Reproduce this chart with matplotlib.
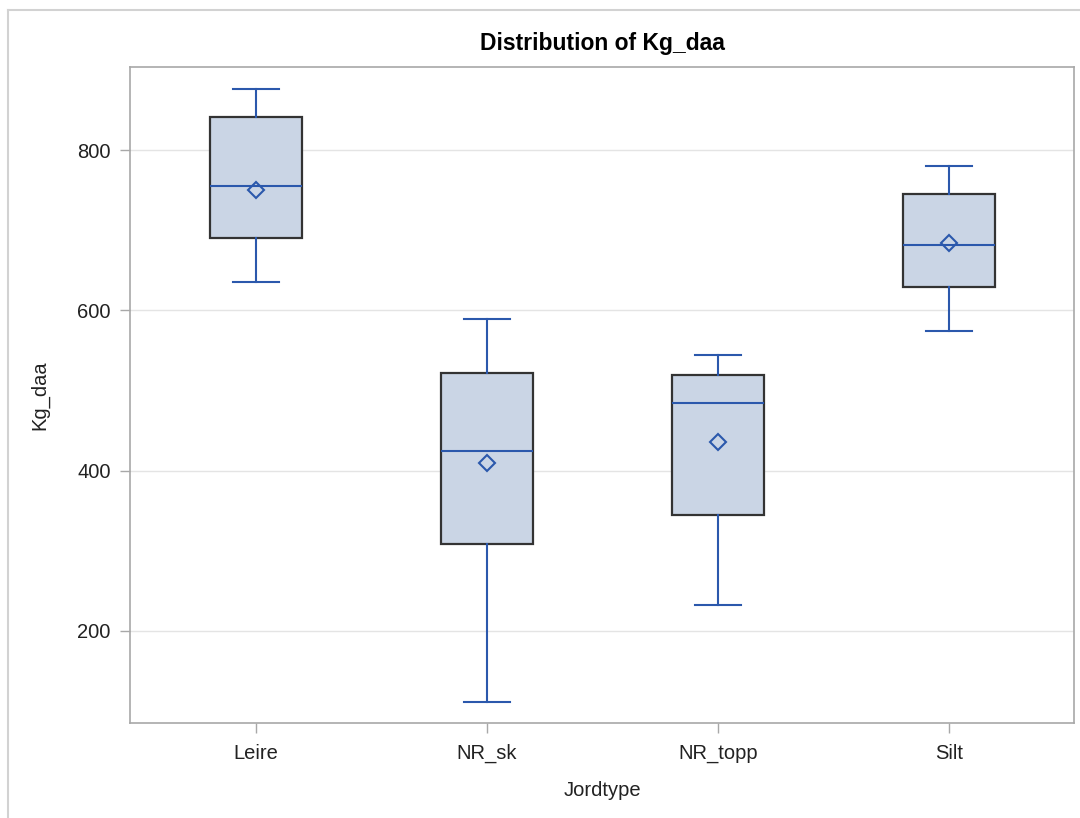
import matplotlib
matplotlib.use("Agg")
import matplotlib.pyplot as plt
from matplotlib.lines import Line2D

categories = ["Leire", "NR_sk", "NR_topp", "Silt"]
whis_lo = [636, 111, 232, 575]
q1 = [690, 309, 345, 629]
median = [756, 425, 485, 682]
q3 = [841, 522, 520, 746]
whis_hi = [876, 590, 545, 780]
means = [750, 410, 436, 684]
yticks = [200, 400, 600, 800]

plt.rcParams['font.family'] = ['Liberation Sans', 'DejaVu Sans']

fig = plt.figure(figsize=(10.8, 8.18), dpi=100)
ax = fig.add_axes([130/1080, 1 - 723/818, (1074-130)/1080, (723-67)/818])

stats = []
for i, c in enumerate(categories):
    stats.append(dict(label=c, whislo=whis_lo[i], q1=q1[i], med=median[i],
                      q3=q3[i], whishi=whis_hi[i], mean=means[i], fliers=[]))

blue = "#2B58AC"
ax.bxp(stats, positions=[1, 2, 3, 4], widths=0.4, patch_artist=True,
       showmeans=True, showfliers=False,
       boxprops=dict(facecolor="#CAD5E5", edgecolor="#333333", linewidth=1.6),
       medianprops=dict(color=blue, linewidth=1.5),
       whiskerprops=dict(color=blue, linewidth=1.5),
       capprops=dict(color=blue, linewidth=1.5),
       capwidths=0.2,
       meanprops=dict(marker="D", markersize=8, markerfacecolor="none",
                      markeredgecolor=blue, markeredgewidth=1.5))

ax.set_xlim(0.455, 4.541)
ax.set_ylim(85, 904)
ax.set_yticks(yticks)
ax.yaxis.grid(True, color="#E4E4E4", linewidth=1)
ax.set_axisbelow(True)
for s in ax.spines.values():
    s.set_color("#A8A8A8")
    s.set_linewidth(1.2)
ax.tick_params(axis="both", colors="#A8A8A8", labelcolor="#222222",
               labelsize=14.5, length=7, width=1)
ax.tick_params(axis="x", pad=8)
ax.tick_params(axis="y", pad=7)
ax.set_xticklabels(categories)
ax.set_xlabel("Jordtype", fontsize=14.5, color="#222222", labelpad=13)
ax.set_ylabel("Kg_daa", fontsize=14.5, color="#222222", labelpad=20)
ax.set_title("Distribution of Kg_daa", fontsize=16.5, fontweight="bold", pad=12)

# outer frame
fc = "#D2D2D2"
fig.add_artist(Line2D([8/1080, 8/1080], [0, 1 - 10/818], color=fc, lw=1.5,
                      transform=fig.transFigure))
fig.add_artist(Line2D([8/1080, 1], [1 - 10/818, 1 - 10/818], color=fc, lw=1.5,
                      transform=fig.transFigure))

fig.savefig("out.png", dpi=100)
